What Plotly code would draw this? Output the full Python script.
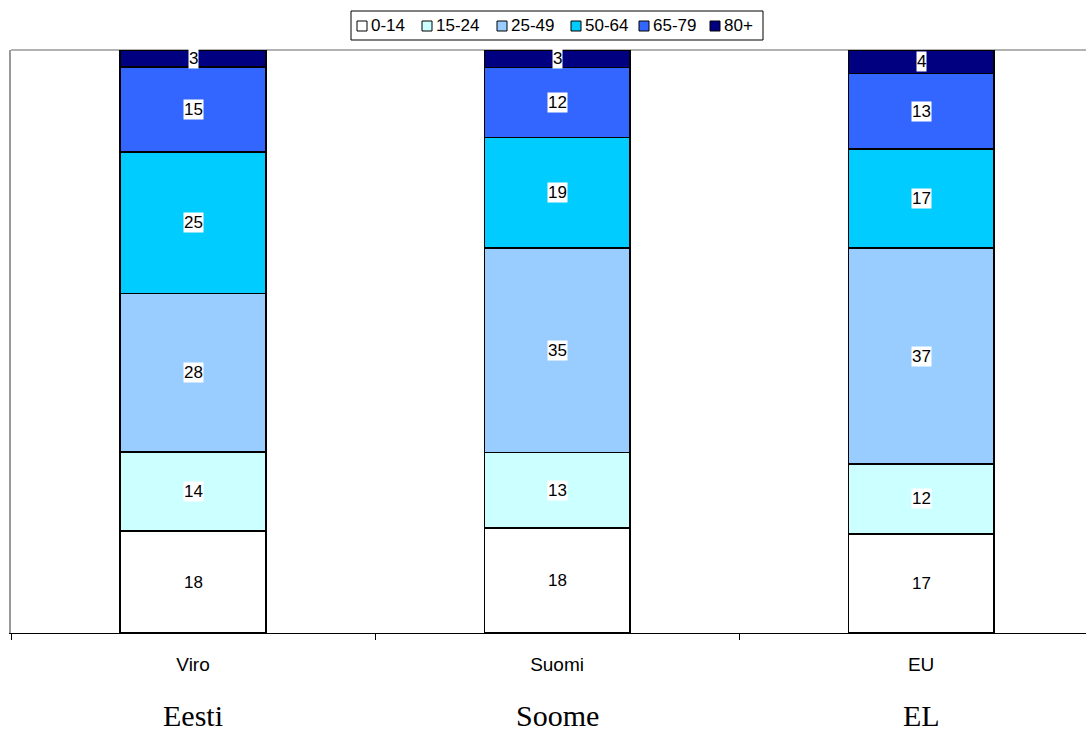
import plotly.graph_objects as go

# Population by age group (%), per region
categories = ["Viro", "Suomi", "EU"]
local_names = ["Eesti", "Soome", "EL"]
age_groups = ["0-14", "15-24", "25-49", "50-64", "65-79", "80+"]
values = {
    "0-14": [18, 18, 17],
    "15-24": [14, 13, 12],
    "25-49": [28, 35, 37],
    "50-64": [25, 19, 17],
    "65-79": [15, 12, 13],
    "80+": [3, 3, 4],
}
colors = ["#FFFFFF", "#CCFFFF", "#99CCFF", "#00CCFF", "#3366FF", "#000080"]

FONT = "Arial, Liberation Sans, sans-serif"
W, H = 1086, 734
ML, MR, MT, MB = 11, 0, 50, 101


def px_x(px):
    """Pixel column -> paper x."""
    return (px - ML) / (W - ML - MR)


def px_y(py):
    """Pixel row -> paper y."""
    return (H - MB - py) / (H - MT - MB)


fig = go.Figure()
for grp, col in zip(age_groups, colors):
    fig.add_trace(go.Bar(
        name=grp, x=categories, y=values[grp],
        marker=dict(color=col, line=dict(color="black", width=1.5)),
        width=0.4, hoverinfo="x+y+name", showlegend=False,
    ))

# Value labels with white boxes, centred in each (normalised) segment
annotations = []
for i, cat in enumerate(categories):
    total = sum(values[g][i] for g in age_groups)
    cum = 0.0
    for grp in age_groups:
        v = values[grp][i]
        mid = (cum + v / 2) / total * 100
        cum += v
        annotations.append(dict(
            x=cat, y=mid, xref="x", yref="y", text=str(v), showarrow=False,
            font=dict(family=FONT, size=17, color="black"),
            bgcolor="white", borderpad=0,
        ))
    annotations.append(dict(
        x=cat, y=px_y(734), xref="x", yref="paper", text=local_names[i],
        showarrow=False, yanchor="bottom",
        font=dict(family="Liberation Serif, Times New Roman, serif", size=30, color="black"),
    ))

# Legend: boxed row of swatches and labels above the plot
shapes = [
    dict(type="line", xref="paper", yref="paper", x0=0, x1=1, y0=1, y1=1,
         line=dict(color="#999999", width=1.5), layer="below"),
    dict(type="rect", xref="paper", yref="paper",
         x0=px_x(351), x1=px_x(763), y0=px_y(40), y1=px_y(11),
         line=dict(color="black", width=1), fillcolor="white"),
]
swatch_left = [357, 422, 497, 571, 639, 710]
for grp, col, sx in zip(age_groups, colors, swatch_left):
    shapes.append(dict(
        type="rect", xref="paper", yref="paper",
        x0=px_x(sx), x1=px_x(sx + 10), y0=px_y(31), y1=px_y(21),
        line=dict(color="black", width=1), fillcolor=col,
    ))
    annotations.append(dict(
        x=px_x(sx + 12), y=px_y(26), xref="paper", yref="paper", text=grp,
        showarrow=False, xanchor="left", yanchor="middle",
        font=dict(family=FONT, size=17, color="black"),
    ))

fig.update_layout(
    barmode="stack", barnorm="percent",
    width=W, height=H,
    margin=dict(l=ML, r=MR, t=MT, b=MB),
    paper_bgcolor="white", plot_bgcolor="white",
    font=dict(family=FONT, size=13, color="black"),
    showlegend=False,
    xaxis=dict(
        range=[-0.5, 2.453], showgrid=False, showline=True, linecolor="black", linewidth=1,
        ticks="outside", tickson="boundaries", ticklen=6, tickcolor="black",
        tickfont=dict(family=FONT, size=19), ticklabelstandoff=14, fixedrange=True,
    ),
    yaxis=dict(
        range=[0, 100], showgrid=False, showticklabels=False, zeroline=False,
        showline=True, linecolor="#999999", linewidth=1.5, fixedrange=True,
    ),
    annotations=annotations,
    shapes=shapes,
)

fig.write_html("out.html")
